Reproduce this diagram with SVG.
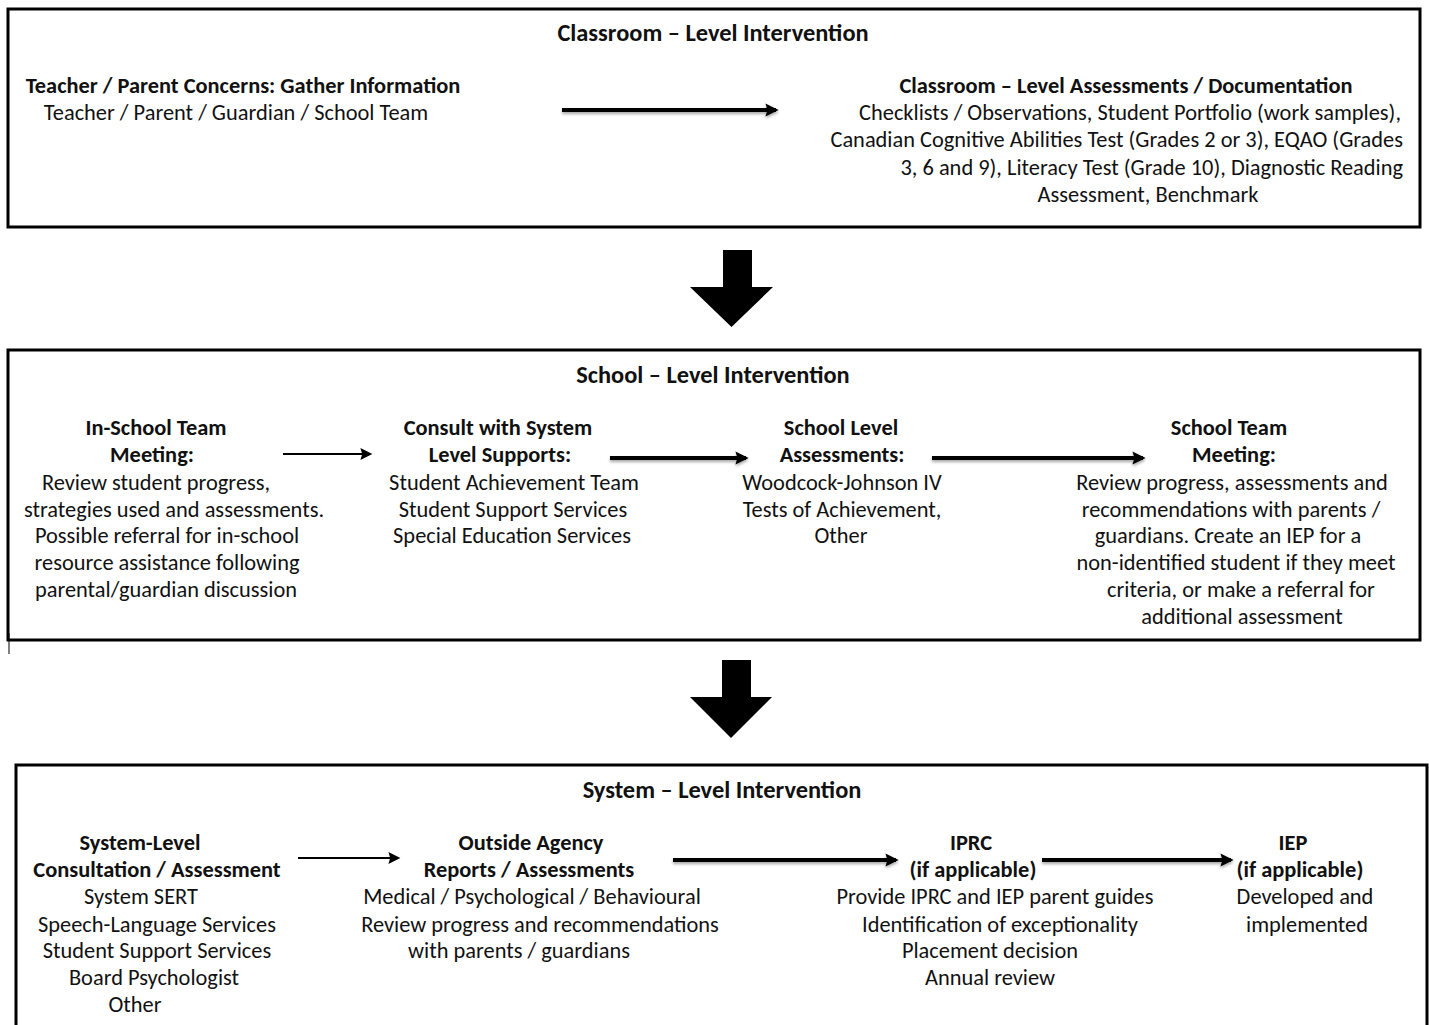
<svg xmlns="http://www.w3.org/2000/svg" width="1429" height="1025" viewBox="0 0 1429 1025">
<style>
text{font-family:Carlito,"Liberation Sans",Arial,sans-serif;font-size:22.4px;fill:#111;text-anchor:middle}
.b{font-weight:bold}
.t{font-size:24.4px}
.e{text-anchor:end}
.box{fill:#fff;stroke:#000;stroke-width:3}
.ln{stroke:#000;fill:none}
.thin{stroke-width:2}
.thick{stroke-width:4}
</style>
<defs>
<marker id="ah" viewBox="0 0 10 10" refX="8" refY="5" markerWidth="3.3" markerHeight="3.5" orient="auto" markerUnits="strokeWidth"><path d="M0,0 L10,5 L0,10 L1.5,5 z" fill="#000"/></marker>
<marker id="ahs" viewBox="0 0 10 10" refX="8" refY="5" markerWidth="6.5" markerHeight="6" orient="auto" markerUnits="strokeWidth"><path d="M0,0 L10,5 L0,10 L1.5,5 z" fill="#000"/></marker>
<filter id="sh" filterUnits="userSpaceOnUse" x="0" y="0" width="1429" height="1025"><feDropShadow dx="0" dy="2" stdDeviation="1.5" flood-color="#000" flood-opacity="0.35"/></filter>
</defs>

<g id="classroom">
<rect class="box" x="8" y="9" width="1412" height="218"/>
<text class="b t" x="713" y="41">Classroom – Level Intervention</text>
<text class="b" x="243" y="93">Teacher / Parent Concerns: Gather Information</text>
<text x="236" y="120">Teacher / Parent / Guardian / School Team</text>
<text class="b" x="1126" y="93">Classroom – Level Assessments / Documentation</text>
<text class="e" x="1401" y="120">Checklists / Observations, Student Portfolio (work samples),</text>
<text class="e" x="1403" y="147">Canadian Cognitive Abilities Test (Grades 2 or 3), EQAO (Grades</text>
<text class="e" x="1403" y="175">3, 6 and 9), Literacy Test (Grade 10), Diagnostic Reading</text>
<text x="1148" y="202">Assessment, Benchmark</text>
</g>

<g id="school">
<rect class="box" x="8" y="350" width="1412" height="290"/>
<text class="b t" x="713" y="383">School – Level Intervention</text>
<text class="b" x="156" y="435">In-School Team</text>
<text class="b" x="152" y="462">Meeting:</text>
<text x="156" y="490">Review student progress,</text>
<text x="174" y="517">strategies used and assessments.</text>
<text x="167" y="543">Possible referral for in-school</text>
<text x="167" y="570">resource assistance following</text>
<text x="166" y="597">parental/guardian discussion</text>

<text class="b" x="498" y="435">Consult with System</text>
<text class="b" x="500" y="462">Level Supports:</text>
<text x="514" y="490">Student Achievement Team</text>
<text x="513" y="517">Student Support Services</text>
<text x="512" y="543">Special Education Services</text>

<text class="b" x="841" y="435">School Level</text>
<text class="b" x="842" y="462">Assessments:</text>
<text x="842" y="490">Woodcock-Johnson IV</text>
<text x="842" y="517">Tests of Achievement,</text>
<text x="841" y="543">Other</text>

<text class="b" x="1229" y="435">School Team</text>
<text class="b" x="1234" y="462">Meeting:</text>
<text x="1232" y="490">Review progress, assessments and</text>
<text x="1231" y="517">recommendations with parents /</text>
<text x="1228" y="543">guardians. Create an IEP for a</text>
<text x="1236" y="570">non-identified student if they meet</text>
<text x="1241" y="597">criteria, or make a referral for</text>
<text x="1242" y="624">additional assessment</text>
</g>
<line x1="9" y1="633" x2="9" y2="654" stroke="#000" stroke-width="1"/>

<g id="system">
<rect class="box" x="16" y="765" width="1411" height="280"/>
<text class="b t" x="722" y="798">System – Level Intervention</text>
<text class="b" x="140" y="850">System-Level</text>
<text class="b" x="157" y="877">Consultation / Assessment</text>
<text x="141" y="904">System SERT</text>
<text x="157" y="932">Speech-Language Services</text>
<text x="157" y="958">Student Support Services</text>
<text x="154" y="985">Board Psychologist</text>
<text x="135" y="1012">Other</text>

<text class="b" x="531" y="850">Outside Agency</text>
<text class="b" x="529" y="877">Reports / Assessments</text>
<text x="532" y="904">Medical / Psychological / Behavioural</text>
<text x="540" y="932">Review progress and recommendations</text>
<text x="519" y="958">with parents / guardians</text>

<text class="b" x="971" y="850">IPRC</text>
<text class="b" x="973" y="877">(if applicable)</text>
<text x="995" y="904">Provide IPRC and IEP parent guides</text>
<text x="1000" y="932">Identification of exceptionality</text>
<text x="990" y="958">Placement decision</text>
<text x="990" y="985">Annual review</text>

<text class="b" x="1293" y="850">IEP</text>
<text class="b" x="1300" y="877">(if applicable)</text>
<text x="1305" y="904">Developed and</text>
<text x="1307" y="932">implemented</text>
</g>

<g id="connectors">
<line class="ln thick" x1="562" y1="110" x2="776" y2="110" marker-end="url(#ah)" filter="url(#sh)"/>
<line class="ln thin" x1="283" y1="454" x2="370" y2="454" marker-end="url(#ahs)"/>
<line class="ln thick" x1="610" y1="458" x2="746" y2="458" marker-end="url(#ah)" filter="url(#sh)"/>
<line class="ln thick" x1="932" y1="458" x2="1143" y2="458" marker-end="url(#ah)" filter="url(#sh)"/>
<line class="ln thin" x1="298" y1="858" x2="398" y2="858" marker-end="url(#ahs)"/>
<line class="ln thick" x1="673" y1="860" x2="896" y2="860" marker-end="url(#ah)" filter="url(#sh)"/>
<line class="ln thick" x1="1042" y1="860" x2="1231" y2="860" marker-end="url(#ah)" filter="url(#sh)"/>
<path d="M723,250 H752 V287 H773 L731.5,327 L690,287 H723 Z" fill="#000"/>
<path d="M722,660 H751 V697 H772 L731,738 L690,697 H722 Z" fill="#000"/>
</g>
</svg>
